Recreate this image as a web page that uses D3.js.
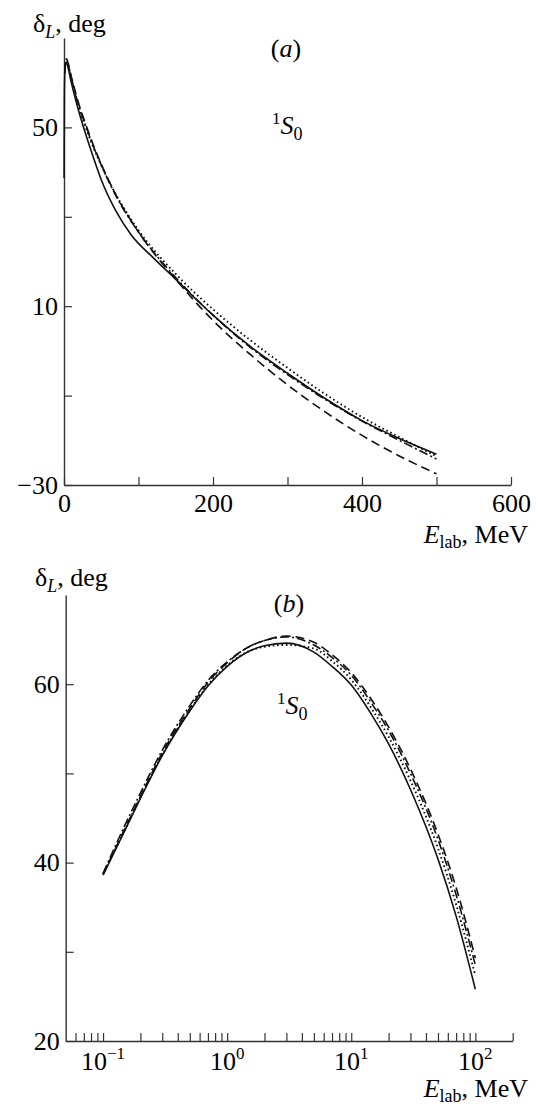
<!DOCTYPE html>
<html>
<head>
<meta charset="utf-8">
<script src="https://cdn.jsdelivr.net/npm/d3@7"></script>
<style>
  body { margin: 0; background: #fff; }
  text { font-family: "Liberation Serif", "DejaVu Serif", serif; fill: #000; }
</style>
</head>
<body>
<div id="chart"></div>
<script>
// panel (a): phase shift vs E_lab, linear scale
const energyA = [0.1, 0.5, 1, 2, 3, 5, 10, 20, 30, 40, 50, 70, 90, 120, 150, 200, 250, 300, 350, 400, 450, 500];
const solidA = [38.7, 57.0, 62.0, 64.3, 64.6, 63.6, 59.9, 53.5, 48.0, 43.0, 38.3, 31.2, 26.0, 20.8, 16.0, 8.0, 1.0, -5.0, -10.6, -15.6, -19.6, -23.1];
// the model curves in (a) start near the maximum
const energyAModel = [1, 2, 3, 5, 10, 20, 30, 40, 50, 70, 100, 150, 200, 250, 300, 350, 400, 450, 500];
const dashedA = [62.4, 64.9, 65.4, 64.7, 61.3, 55.2, 50.3, 45.8, 41.8, 34.8, 26.6, 16.0, 6.8, -0.8, -7.6, -13.6, -18.9, -23.5, -27.5];
const dashDotA = [62.5, 64.9, 65.3, 64.4, 61.0, 54.8, 50.0, 45.5, 41.6, 34.6, 26.6, 16.4, 8.0, 0.8, -5.3, -10.8, -15.7, -20.0, -24.2];
const dottedA = [62.1, 64.2, 64.4, 64.0, 60.5, 54.4, 49.6, 45.3, 41.5, 34.9, 27.0, 17.2, 9.3, 2.4, -3.8, -9.6, -14.8, -19.3, -23.6];

// panel (b): same, log scale up to 100 MeV
const energyB = [0.1, 0.15, 0.2, 0.3, 0.5, 0.7, 1, 1.5, 2, 3, 5, 7, 10, 15, 20, 30, 50, 70, 100];
const solidB = [38.6, 43.6, 47.2, 52.0, 57.0, 59.8, 62.0, 63.7, 64.3, 64.6, 63.6, 62.0, 59.9, 56.3, 53.3, 48.2, 40.4, 34.0, 25.8];
const dashedB = [38.7, 43.8, 47.4, 52.3, 57.3, 60.2, 62.4, 64.2, 64.9, 65.4, 64.7, 63.3, 61.3, 58.0, 55.2, 50.5, 43.2, 37.2, 29.3];
const dashDotB = [38.8, 44.2, 47.8, 52.6, 57.6, 60.4, 62.5, 64.2, 64.9, 65.3, 64.4, 63.0, 61.0, 57.6, 54.8, 50.0, 42.6, 36.4, 28.5];
const dottedB = [38.7, 43.7, 47.3, 52.1, 57.1, 59.9, 62.1, 63.7, 64.2, 64.4, 64.0, 62.6, 60.5, 57.0, 54.1, 49.2, 41.6, 35.3, 27.3];

// ticks
const xTicksA = [0, 100, 200, 300, 400, 500, 600];
const xLabelsA = [0, 200, 400, 600];
const yTicksA = [-30, -10, 10, 30, 50];
const yLabelsA = [-30, 10, 50];
const xLabelsB = [0.1, 1, 10, 100];
const xLabelExpB = ["\u22121", "0", "1", "2"];
const yTicksB = [20, 30, 40, 50, 60];
const yLabelsB = [20, 40, 60];

const width = 536, height = 1107;
const fontSize = 26;

const styles = {
  solid: null,
  dashed: "9,5",
  dotted: "1.6,2.8",
  dashDot: "9,3,2,3"
};

const svg = d3.select("#chart").append("svg")
  .attr("width", width)
  .attr("height", height);

// scales
const xA = d3.scaleLinear().domain([0, 600]).range([64, 511]);
const yA = d3.scaleLinear().domain([-30, 70]).range([485, 38]);
const xB = d3.scaleLog().domain([0.05, 200]).range([65.7, 512.7]);
const yB = d3.scaleLinear().domain([20, 70]).range([1041, 595]);

function styleAxis(g) {
  g.selectAll("path.domain").attr("stroke", "#333").attr("stroke-width", 1.4);
  g.selectAll(".tick line").attr("stroke", "#333").attr("stroke-width", 1.2);
  g.selectAll("text")
    .attr("font-family", "Liberation Serif")
    .attr("font-size", fontSize)
    .attr("fill", "#000");
}

function drawCurve(xs, ys, energies, values, dash) {
  const line = d3.line()
    .x(d => xs(d[0]))
    .y(d => ys(d[1]))
    .curve(d3.curveMonotoneX);
  svg.append("path")
    .datum(energies.map((e, i) => [e, values[i]]))
    .attr("fill", "none")
    .attr("stroke", "#111")
    .attr("stroke-width", dash === "1.6,2.8" ? 1.9 : 1.6)
    .attr("stroke-dasharray", dash)
    .attr("d", line);
}

// ---------- panel (a) ----------
svg.append("g")
  .attr("transform", `translate(0,${yA(-30)})`)
  .call(d3.axisBottom(xA)
    .tickValues(xTicksA)
    .tickSizeInner(-8).tickSizeOuter(0).tickPadding(9)
    .tickFormat(d => xLabelsA.includes(d) ? d : ""))
  .call(styleAxis);

svg.append("g")
  .attr("transform", `translate(${xA(0)},0)`)
  .call(d3.axisLeft(yA)
    .tickValues(yTicksA)
    .tickSizeInner(-8).tickSizeOuter(0).tickPadding(6)
    .tickFormat(d => yLabelsA.includes(d) ? d3.format("")(d) : ""))
  .call(styleAxis);

drawCurve(xA, yA, energyAModel, dottedA, styles.dotted);
drawCurve(xA, yA, energyAModel, dashedA, styles.dashed);
drawCurve(xA, yA, energyAModel, dashDotA, styles.dashDot);
drawCurve(xA, yA, energyA, solidA, styles.solid);

// ---------- panel (b) ----------
const minorB = [];
[0.01, 0.1, 1, 10, 100].forEach(dec => {
  for (let k = 1; k <= 9; k++) {
    const v = +(dec * k).toPrecision(3);
    if (v > 0.05 && v <= 200) minorB.push(v);
  }
});

svg.append("g")
  .attr("transform", `translate(0,${yB(20)})`)
  .call(d3.axisBottom(xB)
    .tickValues(minorB)
    .tickSizeInner(-8).tickSizeOuter(0)
    .tickFormat(""))
  .call(styleAxis);

svg.append("g")
  .attr("transform", `translate(${xB(0.05)},0)`)
  .call(d3.axisLeft(yB)
    .tickValues(yTicksB)
    .tickSizeInner(-8).tickSizeOuter(0).tickPadding(6)
    .tickFormat(d => yLabelsB.includes(d) ? d : ""))
  .call(styleAxis);

// power-of-ten labels
const powLabels = svg.append("g").selectAll("text")
  .data(xLabelsB)
  .join("text")
  .attr("x", d => xB(d))
  .attr("y", yB(20) + 29)
  .attr("text-anchor", "middle")
  .attr("font-size", fontSize);
powLabels.append("tspan").text("10");
powLabels.append("tspan")
  .attr("font-size", 17)
  .attr("dy", -11)
  .text((d, i) => xLabelExpB[i]);

drawCurve(xB, yB, energyB, dottedB, styles.dotted);
drawCurve(xB, yB, energyB, dashedB, styles.dashed);
drawCurve(xB, yB, energyB, dashDotB, styles.dashDot);
drawCurve(xB, yB, energyB, solidB, styles.solid);

// ---------- text labels ----------
function yTitle(x, y) {
  const t = svg.append("text").attr("x", x).attr("y", y).attr("font-size", fontSize);
  t.append("tspan").text("\u03b4");
  t.append("tspan").attr("font-style", "italic").attr("font-size", 18).attr("dy", 6).text("L");
  t.append("tspan").attr("dy", -6).text(", deg");
}

function xTitle(xEnd, y) {
  const t = svg.append("text").attr("x", xEnd).attr("y", y)
    .attr("text-anchor", "end").attr("font-size", fontSize);
  t.append("tspan").attr("font-style", "italic").text("E");
  t.append("tspan").attr("font-size", 18).attr("dy", 5).text("lab");
  t.append("tspan").attr("dy", -5).text(", MeV");
}

function waveLabel(x, y) {
  const t = svg.append("text").attr("x", x).attr("y", y).attr("font-size", fontSize);
  t.append("tspan").attr("font-size", 17).attr("dy", -10).text("1");
  t.append("tspan").attr("font-style", "italic").attr("dy", 10).text("S");
  t.append("tspan").attr("font-size", 18).attr("dy", 6).text("0");
}

function panelTag(cx, y, letter) {
  const t = svg.append("text").attr("x", cx).attr("y", y)
    .attr("text-anchor", "middle").attr("font-size", fontSize);
  t.append("tspan").text("(");
  t.append("tspan").attr("font-style", "italic").text(letter);
  t.append("tspan").text(")");
}

yTitle(33, 32);
panelTag(286, 57, "a");
waveLabel(272, 134);
xTitle(528, 543);

yTitle(35, 586);
panelTag(289, 612, "b");
waveLabel(277, 714);
xTitle(528, 1097);
</script>
</body>
</html>
